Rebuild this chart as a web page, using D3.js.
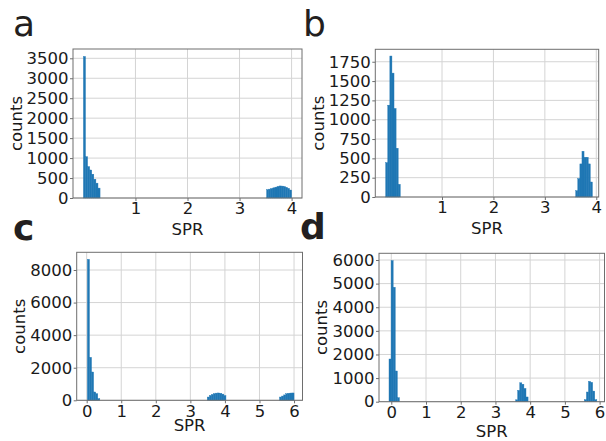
<!DOCTYPE html>
<html>

<head>
  <script src="https://d3js.org/d3.v7.min.js"></script>
  <style>
    body {
      margin: 0;
      background: #fff;
    }

    svg {
      display: block;
      font-family: "DejaVu Sans", sans-serif;
    }
  </style>
</head>

<body>
  <script>
    // ---- data ----
    const panelLetters = ["a", "b", "c", "d"];
    const xLabel = "SPR";
    const yLabel = "counts";

    const xTicksAB = [1, 2, 3, 4];
    const xTicksCD = [0, 1, 2, 3, 4, 5, 6];

    const yTicksA = [0, 500, 1000, 1500, 2000, 2500, 3000, 3500];
    const yTicksB = [0, 250, 500, 750, 1000, 1250, 1500, 1750];
    const yTicksC = [0, 2000, 4000, 6000, 8000];
    const yTicksD = [0, 1000, 2000, 3000, 4000, 5000, 6000];

    // histogram bins: start of first bin + counts, constant bin width per panel
    const binWidthA = 0.04;
    const aLowCounts = [3546, 1035, 787, 702, 596, 471, 372, 248];
    const aHighCounts = [210, 222, 238, 255, 272, 290, 302, 298, 288, 268, 242, 200];

    const binWidthB = 0.0405;
    const bLowCounts = [445, 1188, 1824, 1603, 1145, 631, 164];
    const bHighCounts = [82, 238, 428, 592, 514, 514, 428, 194];

    const binWidthC = 0.06;
    const cLowCounts = [8654, 2638, 1738, 511, 409, 102];
    const cMidCounts = [200, 300, 360, 410, 440, 450, 430, 380, 290];
    const cHighCounts = [200, 260, 330, 400, 430, 445, 450];

    const binWidthD = 0.06;
    const dLowCounts = [1808, 5975, 4845, 1300, 170];
    const dMidCounts = [80, 480, 800, 740, 560, 200];
    const dHighCounts = [85, 410, 860, 820, 450, 85];

    // ---- layout per panel ----
    const panels = [
      {
        letter: panelLetters[0], bold: false, lx: 13, ly: 36,
        left: 73, right: 302, top: 49, bottom: 198,
        xDomain: [-0.2, 4.2], yMax: 3733, xTicks: xTicksAB, yTicks: yTicksA,
        bins: [{ start: 0, w: binWidthA, counts: aLowCounts }, { start: 3.52, w: binWidthA, counts: aHighCounts }],
        ylx: 21.5, xlOff: 37
      },
      {
        letter: panelLetters[1], bold: false, lx: 303, ly: 36,
        left: 375.3, right: 598.7, top: 49.3, bottom: 197,
        xDomain: [-0.297, 4.047], yMax: 1911, xTicks: xTicksAB, yTicks: yTicksB,
        bins: [{ start: -0.095, w: binWidthB, counts: bLowCounts }, { start: 3.60, w: binWidthB, counts: bHighCounts }],
        ylx: 323.5, xlOff: 37
      },
      {
        letter: panelLetters[2], bold: true, lx: 13, ly: 240,
        left: 76.7, right: 302.5, top: 252.3, bottom: 400.3,
        xDomain: [-0.289, 6.245], yMax: 9087, xTicks: xTicksCD, yTicks: yTicksC,
        bins: [{ start: 0.02, w: binWidthC, counts: cLowCounts }, { start: 3.49, w: binWidthC, counts: cMidCounts },
        { start: 5.58, w: binWidthC, counts: cHighCounts }],
        ylx: 25, xlOff: 31
      },
      {
        letter: panelLetters[3], bold: true, lx: 300, ly: 239,
        left: 379, right: 604.5, top: 253.3, bottom: 401.7,
        xDomain: [-0.354, 6.141], yMax: 6284, xTicks: xTicksCD, yTicks: yTicksD,
        bins: [{ start: -0.066, w: binWidthD, counts: dLowCounts }, { start: 3.58, w: binWidthD, counts: dMidCounts },
        { start: 5.56, w: binWidthD, counts: dHighCounts }],
        ylx: 327, xlOff: 35
      }
    ];

    const fontSize = 16.5;
    const barColor = "#1f77b4";

    const svg = d3.select("body")
      .append("svg")
      .attr("width", 606)
      .attr("height", 441);

    panels.forEach(p => {
      const x = d3.scaleLinear().domain(p.xDomain).range([p.left, p.right]);
      const y = d3.scaleLinear().domain([0, p.yMax]).range([p.bottom, p.top]);
      const g = svg.append("g");

      // grid
      g.append("g")
        .selectAll("line")
        .data(p.yTicks)
        .join("line")
        .attr("x1", p.left).attr("x2", p.right)
        .attr("y1", d => y(d)).attr("y2", d => y(d))
        .attr("stroke", "#d4d4d4").attr("stroke-width", 1);
      g.append("g")
        .selectAll("line")
        .data(p.xTicks)
        .join("line")
        .attr("x1", d => x(d)).attr("x2", d => x(d))
        .attr("y1", p.top).attr("y2", p.bottom)
        .attr("stroke", "#d4d4d4").attr("stroke-width", 1);

      // bars
      const bars = p.bins.flatMap(b => b.counts.map((c, i) => ({ x0: b.start + i * b.w, x1: b.start + (i + 1) * b.w, c })));
      g.append("g")
        .selectAll("rect")
        .data(bars)
        .join("rect")
        .attr("x", d => x(d.x0))
        .attr("width", d => x(d.x1) - x(d.x0))
        .attr("y", d => y(d.c))
        .attr("height", d => y(0) - y(d.c))
        .attr("fill", barColor)
        .attr("stroke", barColor)
        .attr("stroke-width", 0.4);

      // frame
      g.append("rect")
        .attr("x", p.left).attr("y", p.top)
        .attr("width", p.right - p.left).attr("height", p.bottom - p.top)
        .attr("fill", "none").attr("stroke", "#6e6e6e").attr("stroke-width", 1);

      // y axis ticks + labels
      const yAxis = g.append("g")
        .attr("transform", `translate(${p.left},0)`)
        .call(d3.axisLeft(y).tickValues(p.yTicks).tickSize(3).tickPadding(1.5).tickFormat(d3.format("d")));
      yAxis.select(".domain").remove();
      yAxis.selectAll(".tick line").attr("stroke", "#6e6e6e");
      yAxis.selectAll("text").attr("font-size", fontSize).attr("fill", "#1a1a1a")
        .attr("font-family", "DejaVu Sans");

      // x axis ticks + labels
      const xAxis = g.append("g")
        .attr("transform", `translate(0,${p.bottom})`)
        .call(d3.axisBottom(x).tickValues(p.xTicks).tickSize(3).tickPadding(1.5).tickFormat(d3.format("d")));
      xAxis.select(".domain").remove();
      xAxis.selectAll(".tick line").attr("stroke", "#6e6e6e");
      xAxis.selectAll("text").attr("font-size", fontSize).attr("fill", "#1a1a1a")
        .attr("font-family", "DejaVu Sans");

      // axis labels
      g.append("text")
        .attr("x", (p.left + p.right) / 2)
        .attr("y", p.bottom + p.xlOff)
        .attr("text-anchor", "middle")
        .attr("font-size", fontSize)
        .attr("fill", "#1a1a1a")
        .text(xLabel);
      g.append("text")
        .attr("transform", `translate(${p.ylx},${(p.top + p.bottom) / 2}) rotate(-90)`)
        .attr("text-anchor", "middle")
        .attr("font-size", fontSize)
        .attr("fill", "#1a1a1a")
        .text(yLabel);

      // panel letter
      g.append("text")
        .attr("x", p.lx)
        .attr("y", p.ly)
        .attr("font-size", 36)
        .attr("font-weight", p.bold ? "bold" : "normal")
        .attr("fill", "#231f20")
        .text(p.letter);
    });
  </script>
</body>

</html>
